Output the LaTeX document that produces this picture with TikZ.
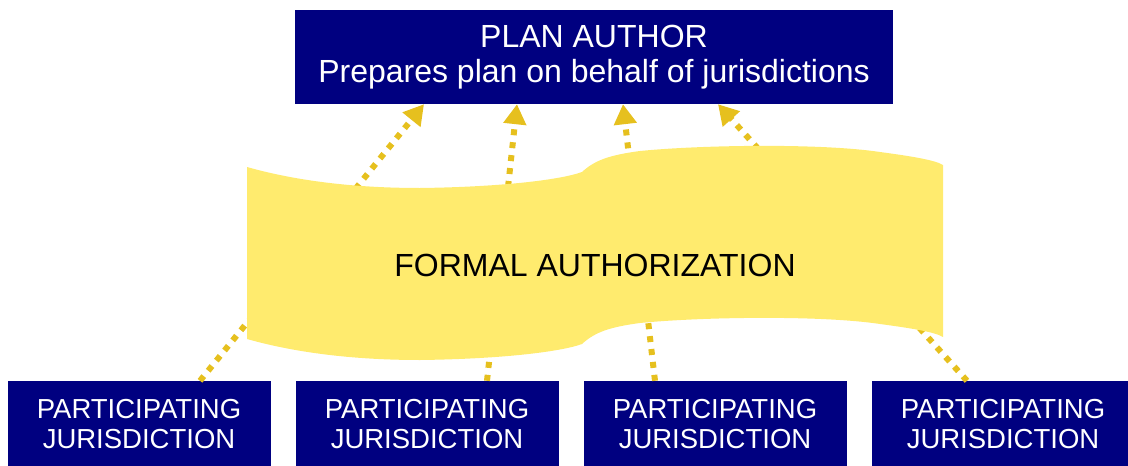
\documentclass[tikz,border=0pt]{standalone}
\usepackage{fontspec}
\setmainfont{Liberation Sans}
\usepackage{tikz}
\usetikzlibrary{calc,positioning,arrows.meta}

\definecolor{authnavy}{HTML}{000080}
\definecolor{bannerfill}{HTML}{FFEB6E}
\definecolor{linkgold}{HTML}{E6C01E}

\begin{document}
\begin{tikzpicture}[
                x=1pt,y=-1pt,
                authorbox/.style={rectangle,fill=authnavy,text=white,align=center,
                    minimum width=598pt,minimum height=94pt,inner sep=0pt,
                    font=\fontsize{32}{35}\selectfont},
                jurisbox/.style={rectangle,fill=authnavy,text=white,align=center,
                    minimum width=263pt,minimum height=86pt,inner sep=0pt,
                    font=\fontsize{27.5}{30}\selectfont},
                link/.style={draw=linkgold,line width=6pt,dash pattern=on 6pt off 7pt,
                    -{Triangle[length=20pt,width=22pt]}}
            ]
                \useasboundingbox (0,0) rectangle (1128,466);
                \node[authorbox] (author) at (594,57)
                    {PLAN AUTHOR\\Prepares plan on behalf of jurisdictions};
                \node[jurisbox] (j1) at (139,424) {PARTICIPATING\\JURISDICTION};
                \node[jurisbox] (j2) at (427,424) {PARTICIPATING\\JURISDICTION};
                \node[jurisbox] (j3) at (715,424) {PARTICIPATING\\JURISDICTION};
                \node[jurisbox] (j4) at (1003,424) {PARTICIPATING\\JURISDICTION};
                % links run behind the banner
                \draw[link] ($(j1.north)+(61,0)$)  -- ($(author.south)+(-170,0)$);
                \draw[link] ($(j2.north)+(60,0)$)  -- ($(author.south)+(-77,0)$);
                \draw[link] ($(j3.north)+(-60,0)$) -- ($(author.south)+(29,0)$);
                \draw[link] ($(j4.north)+(-36,0)$) -- ($(author.south)+(124,0)$);
                % banner
                \fill[bannerfill] (247,167)
                    .. controls (300,182) and (360,188) .. (420,188)
                    .. controls (500,187) and (560,180) .. (582,172)
                    .. controls (595,160) and (610,155) .. (640,151)
                    .. controls (700,145) and (820,143) .. (880,152)
                    .. controls (910,156) and (935,160) .. (943,165)
                    -- (943,337)
                    .. controls (935,332) and (910,328) .. (880,324)
                    .. controls (820,315) and (700,317) .. (640,323)
                    .. controls (610,327) and (595,332) .. (582,344)
                    .. controls (560,352) and (500,359) .. (420,360)
                    .. controls (360,360) and (300,354) .. (247,339)
                    -- cycle;
                \node[font=\fontsize{32}{35}\selectfont] (formal) at (595,265) {FORMAL AUTHORIZATION};
            \end{tikzpicture}
\end{document}
